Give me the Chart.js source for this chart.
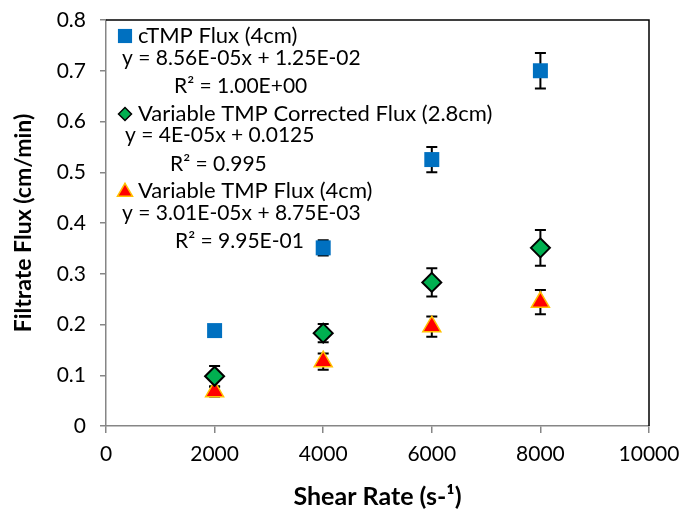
<!DOCTYPE html>
<html>
<head>
<meta charset="utf-8">
<script src="https://cdn.jsdelivr.net/npm/chart.js@4/dist/chart.umd.min.js"></script>
<style>
  html, body { margin: 0; padding: 0; background: #fff; }
  #wrap { width: 683px; height: 514px; }
</style>
</head>
<body>
<div id="wrap"><canvas id="c" width="683" height="514"></canvas></div>
<script>
// Shear rates (s^-1) and measured filtrate flux (cm/min) with error bar half-widths
const shearRates = [2000, 4000, 6000, 8000];
const ctmpFlux = [0.188, 0.351, 0.525, 0.700];
const ctmpErr = [0.000, 0.015, 0.025, 0.035];
const correctedFlux = [0.098, 0.183, 0.283, 0.351];
const correctedErr = [0.020, 0.018, 0.028, 0.035];
const variableFlux = [0.068, 0.127, 0.196, 0.244];
const variableErr = [0.010, 0.016, 0.020, 0.024];

const xTicks = [0, 2000, 4000, 6000, 8000, 10000];
const yTicks = [0, 0.1, 0.2, 0.3, 0.4, 0.5, 0.6, 0.7, 0.8];

const seriesNames = ['cTMP Flux (4cm)', 'Variable TMP Corrected Flux (2.8cm)', 'Variable TMP Flux (4cm)'];
const trendEquations = ['y = 8.56E-05x + 1.25E-02', 'y = 4E-05x + 0.0125', 'y = 3.01E-05x + 8.75E-03'];
const trendR2 = ['R\u00B2 = 1.00E+00', 'R\u00B2 = 0.995', 'R\u00B2 = 9.95E-01'];

const FONT = 'Lato, "Open Sans", sans-serif';

const pts = (ys) => shearRates.map((x, i) => ({ x, y: ys[i] }));
const errs = [ctmpErr, correctedErr, variableErr];

// Vertical error bars with caps, drawn beneath the markers
const errorBars = {
  id: 'errorBars',
  beforeDatasetsDraw(chart) {
    const { ctx, scales: { x, y } } = chart;
    ctx.save();
    ctx.strokeStyle = '#000';
    ctx.lineWidth = 2;
    chart.data.datasets.forEach((ds, di) => {
      ds.data.forEach((p, i) => {
        const e = errs[di][i];
        if (!e) return;
        const px = x.getPixelForValue(p.x);
        const top = y.getPixelForValue(p.y + e);
        const bot = y.getPixelForValue(p.y - e);
        ctx.beginPath();
        ctx.moveTo(px, top); ctx.lineTo(px, bot);
        ctx.moveTo(px - 5.5, top); ctx.lineTo(px + 5.5, top);
        ctx.moveTo(px - 5.5, bot); ctx.lineTo(px + 5.5, bot);
        ctx.stroke();
      });
    });
    ctx.restore();
  }
};

// Legend layout inside the plot: icon/name row, then trendline equation and R²
const legendRows = [
  { iconR: 10, ty: 16, ey: 38, ex: 16, ry: 66, rx: 68 },
  { iconR: 6.5, ty: 94, ey: 115, ex: 19, ry: 144, rx: 64 },
  { iconR: 8.7, ty: 171, ey: 193, ex: 16, ry: 221, rx: 69 }
];

// Black top/right frame plus legend entries with their trendline labels
const frameAndLegend = {
  id: 'frameAndLegend',
  afterDraw(chart) {
    const { ctx, chartArea: a } = chart;
    ctx.save();
    ctx.strokeStyle = '#000';
    ctx.lineWidth = 1.5;
    ctx.beginPath();
    ctx.moveTo(a.left, a.top); ctx.lineTo(a.right, a.top); ctx.lineTo(a.right, a.bottom);
    ctx.stroke();

    ctx.textBaseline = 'middle';
    ctx.textAlign = 'left';
    const L = a.left;
    const T = a.top;
    legendRows.forEach((r, i) => {
      const ds = chart.data.datasets[i];
      const ix = L + 19, iy = T + r.ty;
      ctx.save();
      ctx.fillStyle = ds.backgroundColor;
      ctx.strokeStyle = ds.borderColor;
      ctx.lineWidth = i === 1 ? 1.5 : ds.borderWidth;
      Chart.helpers.drawPoint(ctx, {
        pointStyle: ds.pointStyle,
        radius: r.iconR,
        borderWidth: i === 1 ? 1.5 : ds.borderWidth,
        rotation: 0
      }, ix, iy + (i === 2 ? 1 : 0));
      ctx.restore();
      ctx.fillStyle = '#000';
      ctx.font = '22px ' + FONT;
      ctx.fillText(seriesNames[i], L + 32, iy);
      ctx.font = '21px ' + FONT;
      ctx.fillText(trendEquations[i], L + r.ex, T + r.ey);
      ctx.fillText(trendR2[i], L + r.rx, T + r.ry);
    });
    ctx.restore();
  }
};

new Chart(document.getElementById('c'), {
  type: 'scatter',
  data: {
    datasets: [
      {
        label: seriesNames[0], data: pts(ctmpFlux),
        pointStyle: 'rect', pointRadius: 10.6, pointHoverRadius: 10.6,
        backgroundColor: '#0070C0', borderColor: '#0070C0', borderWidth: 0
      },
      {
        label: seriesNames[1], data: pts(correctedFlux),
        pointStyle: 'rectRot', pointRadius: 9.5, pointHoverRadius: 9.5,
        backgroundColor: '#00B050', borderColor: '#000000', borderWidth: 2
      },
      {
        label: seriesNames[2], data: pts(variableFlux),
        pointStyle: 'triangle', pointRadius: 10.4, pointHoverRadius: 10.4,
        backgroundColor: '#FF0000', borderColor: '#FFC000', borderWidth: 1.5
      }
    ]
  },
  options: {
    responsive: false,
    animation: false,
    events: [],
    layout: { padding: 0 },
    plugins: { legend: { display: false }, tooltip: { enabled: false } },
    scales: {
      x: {
        type: 'linear', min: 0, max: 10000,
        afterBuildTicks: (s) => { s.ticks = xTicks.map(v => ({ value: v })); },
        afterFit: (s) => { s.height = 88; s.paddingRight = 34; },
        grid: { drawOnChartArea: false, drawTicks: true, tickLength: 7, color: '#868686', lineWidth: 1.5 },
        border: { color: '#868686', width: 1.5 },
        ticks: { color: '#000', font: { family: FONT, size: 21 }, padding: 9, maxRotation: 0, callback: (v) => String(v) },
        title: { display: true, text: 'Shear Rate (s-\u00B9)', color: '#000', font: { family: FONT, size: 25, weight: 'bold' }, padding: { top: 4, bottom: 2 } }
      },
      y: {
        type: 'linear', min: 0, max: 0.8,
        afterBuildTicks: (s) => { s.ticks = yTicks.map(v => ({ value: v })); },
        afterFit: (s) => { s.width = 106; s.paddingTop = 20; },
        grid: { drawOnChartArea: false, drawTicks: true, tickLength: 6, color: '#868686', lineWidth: 1.5 },
        border: { color: '#868686', width: 1.5 },
        ticks: { color: '#000', font: { family: FONT, size: 21 }, padding: 14, callback: (v) => String(Math.round(v * 10) / 10) },
        title: { display: true, text: 'Filtrate Flux (cm/min)', color: '#000', font: { family: FONT, size: 23, weight: 'bold' }, padding: { top: 10, bottom: 4 } }
      }
    }
  },
  plugins: [errorBars, frameAndLegend]
});
</script>
</body>
</html>
